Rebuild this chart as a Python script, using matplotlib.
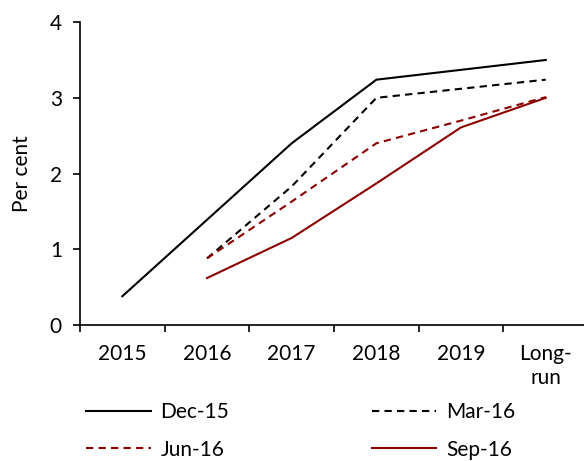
import numpy as np
import matplotlib
matplotlib.use("Agg")
import matplotlib.pyplot as plt

plt.rcParams["font.family"] = ["Lato", "DejaVu Sans"]

categories = ["2015", "2016", "2017", "2018", "2019", "Long-\nrun"]
dec15 = [0.38, 1.39, 2.40, 3.24, 3.37, 3.50]
mar16 = [np.nan, 0.88, 1.83, 3.00, 3.12, 3.24]
jun16 = [np.nan, 0.88, 1.63, 2.40, 2.70, 3.01]
sep16 = [np.nan, 0.62, 1.15, 1.87, 2.61, 3.00]

DARK_RED = "#8b0000"
DASH = (0, (3.5, 2.5))
FS = 15

fig = plt.figure(figsize=(5.84, 4.61), dpi=100)
ax = fig.add_axes([0.137, 0.295, 0.870, 0.657])

x = np.arange(len(categories))
l1, = ax.plot(x, dec15, color="black", lw=1.5, label="Dec-15")
l2, = ax.plot(x, mar16, color="black", lw=1.5, ls=DASH, label="Mar-16")
l3, = ax.plot(x, jun16, color=DARK_RED, lw=1.5, ls=DASH, label="Jun-16")
l4, = ax.plot(x, sep16, color=DARK_RED, lw=1.5, label="Sep-16")

ax.set_xlim(-0.5, len(categories) - 0.5)
ax.set_ylim(0, 4)
ax.set_yticks([0, 1, 2, 3, 4])
ax.tick_params(axis="y", labelsize=FS, length=5, width=1.2, pad=8,
               direction="out")

# category labels centred, tick marks on the boundaries
ax.set_xticks(x)
ax.set_xticklabels(categories, fontsize=FS, linespacing=1.2)
ax.tick_params(axis="x", which="major", length=0, pad=14)
ax.set_xticks(np.arange(len(categories) + 1) - 0.5, minor=True)
ax.tick_params(axis="x", which="minor", length=5, width=1.2, direction="out")

for side in ("top", "right"):
    ax.spines[side].set_visible(False)
for side in ("left", "bottom"):
    ax.spines[side].set_linewidth(1.2)

ax.set_ylabel("Per cent", fontsize=FS)
ax.yaxis.set_label_coords(-0.094, 0.5)

fig.legend([l1, l3, l2, l4], ["Dec-15", "Jun-16", "Mar-16", "Sep-16"],
           ncol=2, frameon=False, fontsize=FS, handlelength=3.1,
           columnspacing=6.85, labelspacing=0.85, handletextpad=0.45,
           loc="lower left", bbox_to_anchor=(0.116, -0.038))

fig.savefig("out.png", dpi=100)
